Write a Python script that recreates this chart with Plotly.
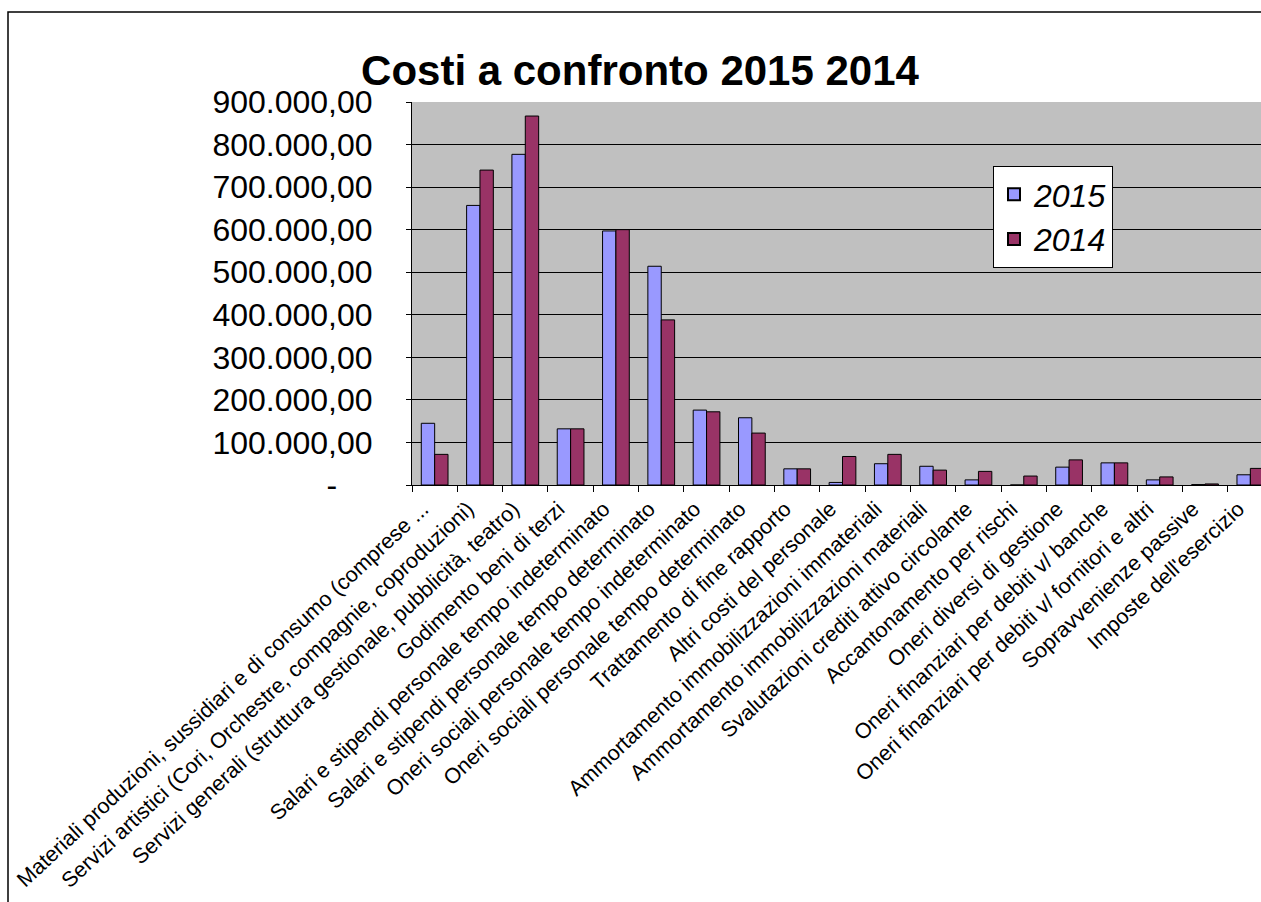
import plotly.graph_objects as go

categories = [
    "Materiali produzioni, sussidiari e di consumo (comprese ...",
    "Servizi artistici (Cori, Orchestre, compagnie, coproduzioni)",
    "Servizi generali (struttura gestionale, pubblicità, teatro)",
    "Godimento beni di terzi",
    "Salari e stipendi personale tempo indeterminato",
    "Salari e stipendi personale tempo determinato",
    "Oneri sociali personale tempo indeterminato",
    "Oneri sociali personale tempo determinato",
    "Trattamento di fine rapporto",
    "Altri costi del personale",
    "Ammortamento immobilizzazioni immateriali",
    "Ammortamento immobilizzazioni materiali",
    "Svalutazioni crediti attivo circolante",
    "Accantonamento per rischi",
    "Oneri diversi di gestione",
    "Oneri finanziari per debiti v/ banche",
    "Oneri finanziari per debiti v/ fornitori e altri",
    "Sopravvenienze passive",
    "Imposte dell'esercizio",
]

values_2015 = [145000, 657000, 777000, 132000, 597000, 514000, 176000, 158000, 38000,
               6000, 50000, 44000, 12000, 0, 42000, 52000, 12000, 1000, 24000]
values_2014 = [72000, 740000, 867000, 132000, 600000, 388000, 172000, 122000, 38000,
               67000, 72000, 35000, 32000, 21000, 59000, 52000, 19000, 2500, 39000]

tick_vals = [0, 100000, 200000, 300000, 400000, 500000, 600000, 700000, 800000, 900000]
tick_text = ["-\u00a0\u00a0\u00a0\u00a0", "100.000,00", "200.000,00", "300.000,00", "400.000,00",
             "500.000,00", "600.000,00", "700.000,00", "800.000,00", "900.000,00"]

FONT = "Arial, Liberation Sans, sans-serif"

fig = go.Figure()
fig.add_trace(go.Bar(x=categories, y=values_2015, name="2015",
                     marker=dict(color="#9999FF", line=dict(color="black", width=1))))
fig.add_trace(go.Bar(x=categories, y=values_2014, name="2014",
                     marker=dict(color="#993366", line=dict(color="black", width=1))))

W, H = 1261, 902
L, R, T, B = 412, 0, 102, 417
pw = W - L - R
ph = H - T - B

def px_to_paper_x(px):
    return (px - L) / pw

def px_to_paper_y(py):
    return (H - B - py) / ph

fig.update_layout(
    width=W, height=H,
    margin=dict(l=L, r=R, t=T, b=B, autoexpand=False),
    paper_bgcolor="white",
    plot_bgcolor="#C0C0C0",
    font=dict(family=FONT, color="black"),
    barmode="group",
    bargap=0.41,
    bargroupgap=0,
    title=dict(text="<b>Costi a confronto 2015 2014</b>",
               font=dict(family=FONT, size=42, color="black"),
               x=640 / W, xanchor="center", xref="container",
               y=1 - 70 / H, yanchor="middle", yref="container"),
    legend=dict(x=px_to_paper_x(993), y=px_to_paper_y(166), xanchor="left", yanchor="top",
                bgcolor="white", bordercolor="black", borderwidth=1,
                font=dict(family=FONT, size=32, style="italic"),
                itemsizing="constant", tracegroupgap=0),
    showlegend=True,
)

fig.update_xaxes(
    range=[-0.5, 18.235],
    tickangle=-43,
    tickfont=dict(family=FONT, size=21.5, color="black"),
    tickson="boundaries",
    ticks="outside", ticklen=6, tickcolor="black",
    ticklabelshift=-12,
    ticklabelstandoff=2,
    showline=True, linecolor="black", linewidth=1,
    showgrid=False,
)
fig.update_yaxes(
    range=[0, 900000],
    tickvals=tick_vals, ticktext=tick_text,
    tickfont=dict(family=FONT, size=32, color="black"),
    ticks="outside", ticklen=5, tickcolor="black",
    ticklabelstandoff=27,
    showline=True, linecolor="black", linewidth=1,
    showgrid=True, gridcolor="black", gridwidth=1,
    zeroline=False,
)

# outer chart border (Excel chart area)
xl = px_to_paper_x(8)
yt = px_to_paper_y(12)
fig.add_shape(type="path", xref="paper", yref="paper",
              path=f"M {xl} {px_to_paper_y(910)} L {xl} {yt} L {px_to_paper_x(1270)} {yt}",
              line=dict(color="black", width=1.5), layer="above")

fig.write_html("out.html")
